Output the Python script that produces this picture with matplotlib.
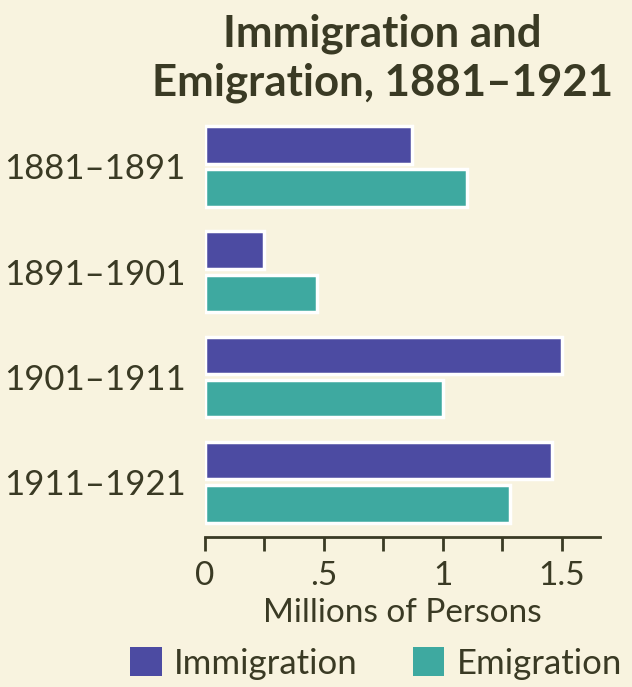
import numpy as np
import matplotlib
matplotlib.use('Agg')
import matplotlib.pyplot as plt
from matplotlib.patches import Patch

# Data (millions of persons)
periods = ['1881\u20131891', '1891\u20131901', '1901\u20131911', '1911\u20131921']
immigration = [0.87, 0.25, 1.50, 1.46]
emigration = [1.10, 0.47, 1.00, 1.28]
tick_vals = [0, 0.5, 1, 1.5]
tick_labels = ['0', '.5', '1', '1.5']

bg = '#f8f3df'
ink = '#3a3a24'
c_imm = '#4c4ba2'
c_emi = '#3ea9a0'

plt.rcParams['font.family'] = ['Lato', 'DejaVu Sans']

fig = plt.figure(figsize=(6.32, 6.87), dpi=100, facecolor=bg)
ax = fig.add_axes([205/632, 1-537/687, 395/632, (537-118)/687])
ax.set_facecolor(bg)

index = np.arange(len(periods))
bar_h = 0.355
off = 0.205

ax.barh(index - off, immigration, bar_h, color=c_imm, edgecolor='white', linewidth=2.5, label='Immigration')
ax.barh(index + off, emigration, bar_h, color=c_emi, edgecolor='white', linewidth=2.5, label='Emigration')

ax.set_ylim(3.52, -0.46)
ax.set_xlim(0, 1.66)

ax.set_yticks(index)
ax.set_yticklabels(periods, fontsize=25, color=ink)
ax.tick_params(axis='y', length=0, pad=14)

ax.set_xticks(tick_vals)
ax.set_xticklabels(tick_labels, fontsize=24, color=ink)
ax.set_xticks([0.25, 0.75, 1.25], minor=True)
ax.tick_params(axis='x', which='both', direction='out', length=10, width=2, color=ink, pad=7)
ax.set_xlabel('Millions of Persons', fontsize=24, color=ink, labelpad=5)

for s in ['top', 'right', 'left']:
    ax.spines[s].set_visible(False)
ax.spines['bottom'].set_color(ink)
ax.spines['bottom'].set_linewidth(2)

fig.text(0.605, 0.951, 'Immigration and', ha='center', va='center',
         fontsize=31.5, fontweight='bold', color=ink)
fig.text(0.605, 0.879, 'Emigration, 1881\u20131921', ha='center', va='center',
         fontsize=31.5, fontweight='bold', color=ink)

handles = [Patch(facecolor=c_imm, edgecolor='none'), Patch(facecolor=c_emi, edgecolor='none')]
leg = fig.legend(handles, ['Immigration', 'Emigration'], loc='center', bbox_to_anchor=(0.595, 0.034),
                 ncol=2, frameon=False, fontsize=25, handlelength=0.9, handleheight=0.9,
                 handletextpad=0.35, columnspacing=1.6)
for t in leg.get_texts():
    t.set_color(ink)

fig.savefig('out.png', dpi=100, facecolor=bg)
